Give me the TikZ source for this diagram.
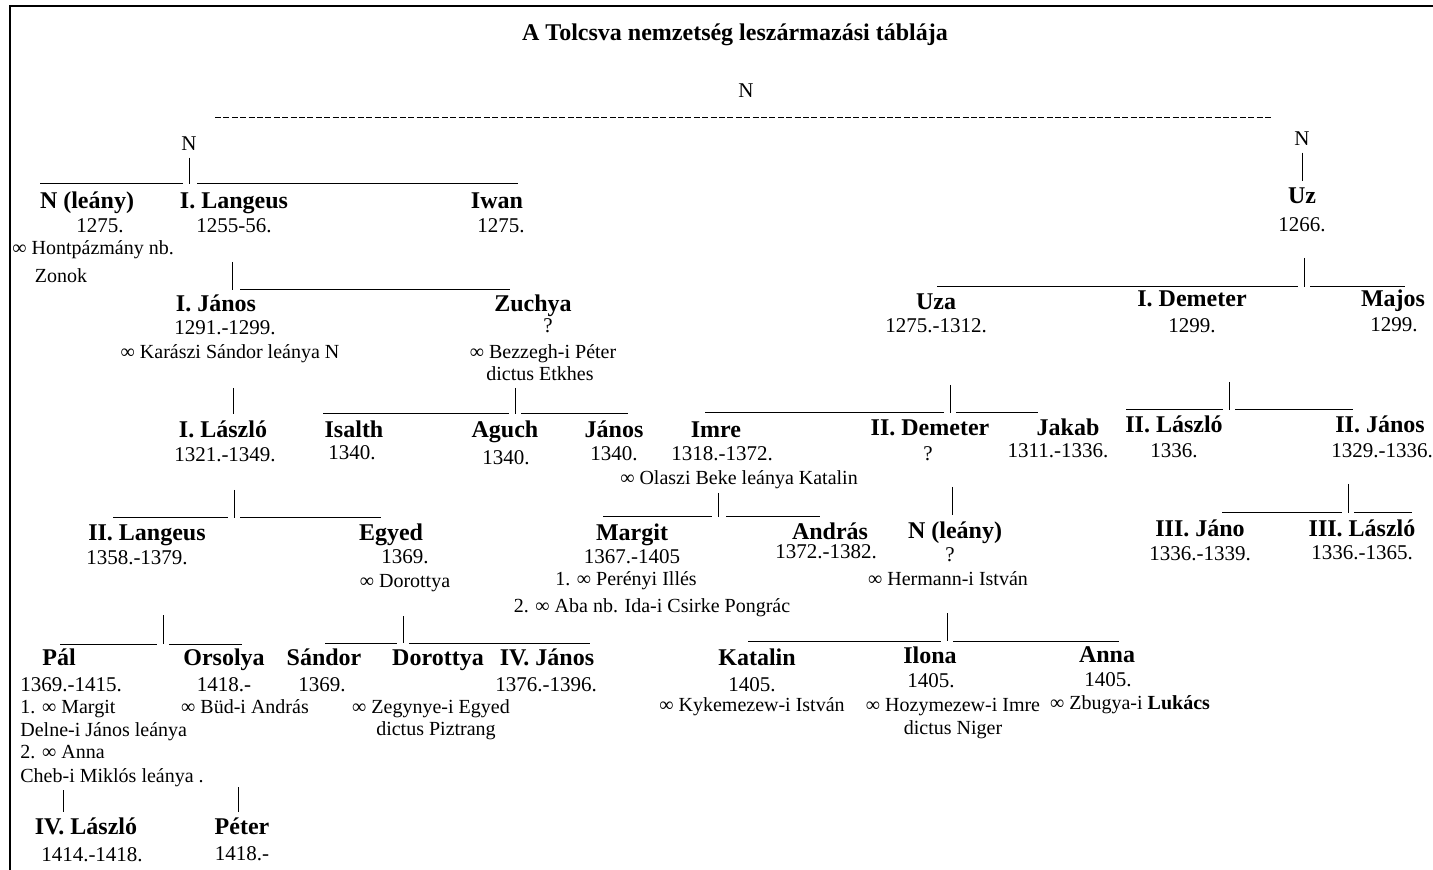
\documentclass[tikz,border=0pt]{standalone}
\usepackage{fontspec}
\setmainfont{Liberation Serif}
\begin{document}
\begin{tikzpicture}[x=0.5pt,y=-0.5pt,
  every node/.style={inner sep=0pt,text height=1.5ex,text depth=.3ex},
  person/.style={font=\fontsize{12}{14}\selectfont\bfseries},
  date/.style={font=\fontsize{10.5}{12}\selectfont},
  note/.style={font=\fontsize{10}{12}\selectfont},
  tie/.style={line width=0.5pt}]
\useasboundingbox (0,0) rectangle (1433,870);
% frame
\coordinate (fbl) at (10,870);
\coordinate (ftl) at (10,6);
\coordinate (ftr) at (1433,6);
\draw[line width=0.8pt] (fbl) -- (ftl) -- (ftr);

\node[person] (title) at (735,35) {A Tolcsva nemzetség leszármazási táblája};
\node[date] (root) at (746,92) {N};
\coordinate (rootl) at (215,118);
\coordinate (rootr) at (1272,118);
\draw[tie,dash pattern=on 3pt off 1.2pt] (rootl) -- (rootr);
\node[date] (nleft) at (189,145) {N};
\node[date] (nright) at (1302,140) {N};

% first generation
\node[person] (nleany) at (87,203) {N (leány)};
\node[date] (nleanyy) at (100,227) {1275.};
\node[note,anchor=west] (nleanym) at (12,249) {∞ Hontpázmány nb.};
\node[note] (nleanym2) at (61,277) {Zonok};
\node[person] (langeus) at (234,203) {I. Langeus};
\node[date] (langeusy) at (234,227) {1255-56.};
\node[person] (iwan) at (497,203) {Iwan};
\node[date] (iwany) at (501,227) {1275.};
\node[person] (uz) at (1302,198) {Uz};
\node[date] (uzy) at (1302,226) {1266.};

% second generation
\node[person] (janos1) at (216,306) {I. János};
\node[date] (janos1y) at (225,329) {1291.-1299.};
\node[note] (janos1m) at (230,353) {∞ Karászi Sándor leánya N};
\node[person] (zuchya) at (533,306) {Zuchya};
\node[date] (zuchyay) at (548,327) {?};
\node[note] (zuchyam) at (543,353) {∞ Bezzegh-i Péter};
\node[note] (zuchyam2) at (540,375) {dictus Etkhes};
\node[person] (uza) at (936,304) {Uza};
\node[date] (uzay) at (936,327) {1275.-1312.};
\node[person] (demeter1) at (1192,301) {I. Demeter};
\node[date] (demeter1y) at (1192,327) {1299.};
\node[person] (majos) at (1393,301) {Majos};
\node[date] (majosy) at (1394,326) {1299.};

% third generation
\node[person] (laszlo1) at (223,432) {I. László};
\node[date] (laszlo1y) at (225,456) {1321.-1349.};
\node[person] (isalth) at (354,432) {Isalth};
\node[date] (isalthy) at (352,454) {1340.};
\node[person] (aguch) at (505,432) {Aguch};
\node[date] (aguchy) at (506,459) {1340.};
\node[person] (janos) at (614,432) {János};
\node[date] (janosy) at (614,455) {1340.};
\node[person] (imre) at (716,432) {Imre};
\node[date] (imrey) at (722,455) {1318.-1372.};
\node[note] (imrem) at (739,479) {∞ Olaszi Beke leánya Katalin};
\node[person] (demeter2) at (930,430) {II. Demeter};
\node[date] (demeter2y) at (928,455) {?};
\node[person] (jakab) at (1068,430) {Jakab};
\node[date] (jakaby) at (1058,452) {1311.-1336.};
\node[person] (laszlo2) at (1174,427) {II. László};
\node[date] (laszlo2y) at (1174,452) {1336.};
\node[person] (janos2) at (1380,427) {II. János};
\node[date] (janos2y) at (1382,452) {1329.-1336.};

% fourth generation
\node[person] (langeus2) at (147,535) {II. Langeus};
\node[date] (langeus2y) at (137,559) {1358.-1379.};
\node[person] (egyed) at (391,535) {Egyed};
\node[date] (egyedy) at (405,558) {1369.};
\node[note] (egyedm) at (405,582) {∞ Dorottya};
\node[person] (margit) at (632,535) {Margit};
\node[date] (margity) at (632,558) {1367.-1405};
\node[note] (margitm) at (626,580) {1. ∞ Perényi Illés};
\node[note] (margitm2) at (652,607) {2. ∞ Aba nb. Ida-i Csirke Pongrác};
\node[person] (andras) at (830,534) {András};
\node[date] (andrasy) at (826,553) {1372.-1382.};
\node[person] (nleany2) at (955,533) {N (leány)};
\node[date] (nleany2y) at (950,556) {?};
\node[note] (nleany2m) at (948,580) {∞ Hermann-i István};
\node[person] (jano3) at (1200,531) {III. Jáno};
\node[date] (jano3y) at (1200,555) {1336.-1339.};
\node[person] (laszlo3) at (1362,531) {III. László};
\node[date] (laszlo3y) at (1362,554) {1336.-1365.};

% fifth generation
\node[person] (pal) at (59,660) {Pál};
\node[date,anchor=west] (paly) at (20,686) {1369.-1415.};
\node[note,anchor=west] (palm) at (20,708) {1. ∞ Margit};
\node[note,anchor=west] (palm2) at (20,731) {Delne-i János leánya};
\node[note,anchor=west] (palm3) at (20,753) {2. ∞ Anna};
\node[note,anchor=west] (palm4) at (20,777) {Cheb-i Miklós leánya .};
\node[person] (orsolya) at (224,660) {Orsolya};
\node[date] (orsolyay) at (224,686) {1418.-};
\node[note] (orsolyam) at (245,708) {∞ Büd-i András};
\node[person] (sandor) at (324,660) {Sándor};
\node[date] (sandory) at (322,686) {1369.};
\node[person] (dorottya) at (438,660) {Dorottya};
\node[note] (dorottyam) at (431,708) {∞ Zegynye-i Egyed};
\node[note] (dorottyam2) at (436,730) {dictus Piztrang};
\node[person] (janos4) at (547,660) {IV. János};
\node[date] (janos4y) at (546,686) {1376.-1396.};
\node[person] (katalin) at (757,660) {Katalin};
\node[date] (kataliny) at (752,686) {1405.};
\node[note] (katalinm) at (752,706) {∞ Kykemezew-i István};
\node[person] (ilona) at (930,658) {Ilona};
\node[date] (ilonay) at (931,682) {1405.};
\node[note] (ilonam) at (953,706) {∞ Hozymezew-i Imre};
\node[note] (ilonam2) at (953,729) {dictus Niger};
\node[person] (anna) at (1107,657) {Anna};
\node[date] (annay) at (1108,681) {1405.};
\node[note] (annam) at (1130,704) {∞ Zbugya-i \textbf{Lukács}};

% sixth generation
\node[person] (laszlo4) at (86,829) {IV. László};
\node[date] (laszlo4y) at (92,856) {1414.-1418.};
\node[person] (peter) at (242,829) {Péter};
\node[date] (petery) at (242,855) {1418.-};

% descent lines
\coordinate (g0) at (189,184);
\coordinate (g0l) at (40,184);
\coordinate (g0r) at (518,184);
\draw[tie] ([yshift=-2pt]nleft.south) -- (g0) (g0l) -- ([xshift=-3pt]g0) ([xshift=4pt]g0) -- (g0r);
\draw[tie] ([yshift=-2pt]nright.south) -- ([yshift=4pt]uz.north);

\coordinate (g1top) at (232,262);
\coordinate (g1) at (232,290);
\coordinate (g1r) at (510,290);
\draw[tie] (g1top) -- (g1) ([xshift=4pt]g1) -- (g1r);

\coordinate (g2top) at (1304,258);
\coordinate (g2) at (1304,287);
\coordinate (g2l) at (937,287);
\coordinate (g2r) at (1405,287);
\draw[tie] (g2top) -- (g2) (g2l) -- ([xshift=-3pt]g2) ([xshift=3pt]g2) -- (g2r);

\coordinate (g3top) at (233,388);
\coordinate (g3) at (233,414);
\draw[tie] (g3top) -- (g3);

\coordinate (g4top) at (515,388);
\coordinate (g4) at (515,414);
\coordinate (g4l) at (323,414);
\coordinate (g4r) at (628,414);
\draw[tie] (g4top) -- (g4) (g4l) -- ([xshift=-3pt]g4) ([xshift=3pt]g4) -- (g4r);

\coordinate (g5top) at (950,385);
\coordinate (g5) at (950,413);
\coordinate (g5l) at (705,413);
\coordinate (g5r) at (1038,413);
\draw[tie] (g5top) -- (g5) (g5l) -- ([xshift=-3pt]g5) ([xshift=3pt]g5) -- (g5r);

\coordinate (g6top) at (1229,382);
\coordinate (g6) at (1229,410);
\coordinate (g6l) at (1126,410);
\coordinate (g6r) at (1353,410);
\draw[tie] (g6top) -- (g6) (g6l) -- ([xshift=-3pt]g6) ([xshift=3pt]g6) -- (g6r);

\coordinate (g7top) at (234,490);
\coordinate (g7) at (234,518);
\coordinate (g7l) at (113,518);
\coordinate (g7r) at (381,518);
\draw[tie] (g7top) -- (g7) (g7l) -- ([xshift=-3pt]g7) ([xshift=3pt]g7) -- (g7r);

\coordinate (g8top) at (718,493);
\coordinate (g8) at (718,517);
\coordinate (g8l) at (603,517);
\coordinate (g8r) at (820,517);
\draw[tie] (g8top) -- (g8) (g8l) -- ([xshift=-3pt]g8) ([xshift=4pt]g8) -- (g8r);

\coordinate (g9top) at (952,487);
\coordinate (g9) at (952,515);
\draw[tie] (g9top) -- (g9);

\coordinate (g10top) at (1348,484);
\coordinate (g10) at (1348,513);
\coordinate (g10l) at (1222,513);
\coordinate (g10r) at (1412,513);
\draw[tie] (g10top) -- (g10) (g10l) -- ([xshift=-3pt]g10) ([xshift=3pt]g10) -- (g10r);

\coordinate (g11top) at (163,615);
\coordinate (g11) at (163,644);
\coordinate (g11l) at (60,644);
\coordinate (g11r) at (242,644);
\draw[tie] (g11top) -- (g11) (g11l) -- ([xshift=-3pt]g11) ([xshift=3pt]g11) -- (g11r);

\coordinate (g12top) at (403,616);
\coordinate (g12) at (403,643);
\coordinate (g12l) at (325,643);
\coordinate (g12r) at (590,643);
\draw[tie] (g12top) -- (g12) (g12l) -- ([xshift=-3pt]g12) ([xshift=3pt]g12) -- (g12r);

\coordinate (g13top) at (947,613);
\coordinate (g13) at (947,641);
\coordinate (g13l) at (748,641);
\coordinate (g13r) at (1119,641);
\draw[tie] (g13top) -- (g13) (g13l) -- ([xshift=-3pt]g13) ([xshift=3pt]g13) -- (g13r);

\coordinate (g14top) at (63,790);
\coordinate (g14) at (63,812);
\draw[tie] (g14top) -- (g14);

\coordinate (g15top) at (238,787);
\coordinate (g15) at (238,812);
\draw[tie] (g15top) -- (g15);
\end{tikzpicture}
\end{document}
